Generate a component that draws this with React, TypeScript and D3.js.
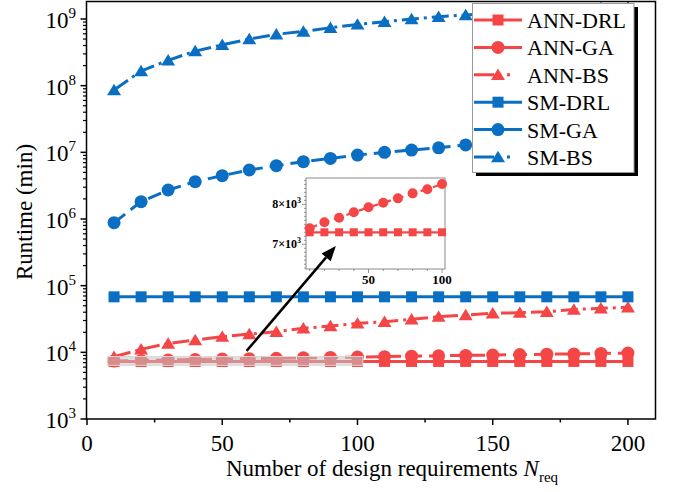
import React, { useEffect, useRef } from 'react';
import * as d3 from 'd3';

// number of design requirements
const nReq = [10, 20, 30, 40, 50, 60, 70, 80, 90, 100, 110, 120, 130, 140, 150, 160, 170, 180, 190, 200];

// runtime (min)
const annDrl = [7300, 7300, 7300, 7300, 7300, 7300, 7300, 7300, 7300, 7300, 7300, 7300, 7300, 7300, 7300, 7300, 7300, 7300, 7300, 7300];
const annGa = [7400, 7550, 7665, 7800, 7925, 8040, 8150, 8275, 8380, 8510, 8620, 8760, 8880, 9000, 9100, 9250, 9380, 9480, 9620, 9750];
const annBs = [8600, 11100, 13600, 15300, 17200, 18800, 20400, 23000, 24800, 27200, 28800, 31300, 34300, 36300, 38500, 39400, 40700, 44000, 45700, 47300];
const smDrl = [68000, 68000, 68000, 68000, 68000, 68000, 68000, 68000, 68000, 68000, 68000, 68000, 68000, 68000, 68000, 68000, 68000, 68000, 68000, 68000];
const smGa = [880000, 1820000, 2720000, 3630000, 4470000, 5430000, 6300000, 7250000, 8100000, 9100000, 10000000, 10800000, 11700000, 12900000, 13600000, 14500000, 15300000, 16200000, 17100000, 18000000];
const smBs = [86000000, 166000000, 240000000, 330000000, 410000000, 500000000, 590000000, 650000000, 740000000, 830000000, 910000000, 1000000000, 1080000000, 1150000000, 1220000000, 1290000000, 1350000000, 1410000000, 1460000000, 1500000000];

const xTicks = [0, 50, 100, 150, 200];
const xMinorTicks = [25, 75, 125, 175];
const yTickExps = [3, 4, 5, 6, 7, 8, 9];
const insetXTicks = [50, 100];
const insetYTicks = [7000, 8000];

// zoom window shown in the inset
const insetNRange = [7.5, 102];
const insetYRange = [6380, 8660];
// arrow from the zoom window to the inset
const arrowFrom = [59, 10500];
const arrowTo = [92, 394000];

const RED = '#F44646';
const BLUE = '#0A6FC2';
const FONT = '"Liberation Serif", "Times New Roman", serif';

const series = [
  { name: 'ANN-DRL', values: annDrl, color: RED, dash: null, marker: 'square' },
  { name: 'ANN-GA', values: annGa, color: RED, dash: '14,7', marker: 'circle' },
  { name: 'ANN-BS', values: annBs, color: RED, dash: '17,5,3,5', marker: 'triangle' },
  { name: 'SM-DRL', values: smDrl, color: BLUE, dash: null, marker: 'square' },
  { name: 'SM-GA', values: smGa, color: BLUE, dash: '14,7', marker: 'circle' },
  { name: 'SM-BS', values: smBs, color: BLUE, dash: '17,5,3,5', marker: 'triangle' },
];

function drawMarker(g, type, x, y, color, s) {
  if (type === 'square') {
    g.append('rect').attr('x', x - s / 2).attr('y', y - s / 2).attr('width', s).attr('height', s).attr('fill', color);
  } else if (type === 'circle') {
    g.append('circle').attr('cx', x).attr('cy', y).attr('r', s / 2 + 1).attr('fill', color);
  } else {
    const h = s * 0.95;
    g.append('path')
      .attr('d', `M${x},${y - h / 2 - 1}L${x + s / 2 + 1.5},${y + h / 2}L${x - s / 2 - 1.5},${y + h / 2}Z`)
      .attr('fill', color);
  }
}

export default function App() {
  const ref = useRef(null);

  useEffect(() => {
    const svg = d3.select(ref.current);
    svg.selectAll('*').remove();

    const left = 86.5, right = 655.5, top = 1.5, bottom = 419;
    const x = d3.scaleLinear().domain([0, 210]).range([87, 655]);
    const y = d3.scaleLog().domain([1e3, Math.pow(10, 9.27)]).range([bottom, 1]);

    // data
    const plot = svg.append('g');
    series.forEach(s => {
      const line = d3.line().x((d, i) => x(nReq[i])).y(d => y(d));
      plot.append('path')
        .attr('d', line(s.values))
        .attr('fill', 'none')
        .attr('stroke', s.color)
        .attr('stroke-width', 3)
        .attr('stroke-dasharray', s.dash)
        .attr('stroke-linecap', 'butt');
      s.values.forEach((v, i) => drawMarker(plot, s.marker, x(nReq[i]), y(v), s.color, 11));
    });

    // zoom window
    svg.append('rect')
      .attr('x', x(insetNRange[0]))
      .attr('y', y(insetYRange[1]))
      .attr('width', x(insetNRange[1]) - x(insetNRange[0]))
      .attr('height', y(insetYRange[0]) - y(insetYRange[1]))
      .attr('fill', '#c4c4c4')
      .attr('fill-opacity', 0.55)
      .attr('stroke', '#d8d8d8')
      .attr('stroke-width', 1);

    // frame
    svg.append('path')
      .attr('d', `M${left},${bottom}V${top}H${right}V${bottom}Z`)
      .attr('fill', 'none').attr('stroke', '#000').attr('stroke-width', 1.5);

    // x axis ticks
    const ax = svg.append('g');
    xTicks.forEach(t => {
      ax.append('line').attr('x1', x(t)).attr('x2', x(t)).attr('y1', bottom).attr('y2', bottom + 6)
        .attr('stroke', '#000').attr('stroke-width', 1.5);
      ax.append('text').attr('x', x(t)).attr('y', 451).attr('text-anchor', 'middle')
        .attr('font-family', FONT).attr('font-size', 23).text(t);
    });
    xMinorTicks.forEach(t => {
      ax.append('line').attr('x1', x(t)).attr('x2', x(t)).attr('y1', bottom).attr('y2', bottom + 3.5)
        .attr('stroke', '#000').attr('stroke-width', 1.5);
    });

    // y axis ticks
    yTickExps.forEach(e => {
      const v = Math.pow(10, e);
      ax.append('line').attr('x1', left).attr('x2', left - 6).attr('y1', y(v)).attr('y2', y(v))
        .attr('stroke', '#000').attr('stroke-width', 1.5);
      if (e < 9) {
        for (let k = 2; k <= 9; k++) {
          ax.append('line').attr('x1', left).attr('x2', left - 3.5).attr('y1', y(k * v)).attr('y2', y(k * v))
            .attr('stroke', '#000').attr('stroke-width', 1.2);
        }
      }
      const t = ax.append('text').attr('x', 76).attr('y', y(v) + 9).attr('text-anchor', 'end')
        .attr('font-family', FONT).attr('font-size', 23);
      t.append('tspan').text('10');
      t.append('tspan').attr('dy', -10).attr('font-size', 15).text(e);
    });
    ax.append('line').attr('x1', left).attr('x2', left - 3.5).attr('y1', y(2e9)).attr('y2', y(2e9))
      .attr('stroke', '#000').attr('stroke-width', 1.2);

    // axis titles
    const xt = svg.append('text').attr('x', 392).attr('y', 476).attr('text-anchor', 'middle')
      .attr('font-family', FONT).attr('font-size', 23);
    xt.append('tspan').text('Number of design requirements ');
    xt.append('tspan').attr('font-style', 'italic').text('N');
    xt.append('tspan').attr('dy', 6).attr('font-size', 15).text('req');

    svg.append('text').attr('transform', 'translate(32,212) rotate(-90)').attr('text-anchor', 'middle')
      .attr('font-family', FONT).attr('font-size', 23).text('Runtime (min)');

    // inset
    const ix = d3.scaleLinear().domain(insetNRange).range([306, 445]);
    const iy = d3.scaleLinear().domain(insetYRange).range([269, 178]);
    const inset = svg.append('g');
    inset.append('rect').attr('x', 306).attr('y', 178).attr('width', 139).attr('height', 91)
      .attr('fill', '#fff').attr('stroke', '#8a8a8a').attr('stroke-width', 1);
    for (let v = 6400; v <= 8600; v += 100) {
      inset.append('line').attr('x1', 306).attr('x2', v % 1000 === 0 ? 302 : 304).attr('y1', iy(v)).attr('y2', iy(v))
        .attr('stroke', '#777').attr('stroke-width', 0.8);
    }
    for (let n = 10; n <= 100; n += 10) {
      inset.append('line').attr('x1', ix(n)).attr('x2', ix(n)).attr('y1', 269).attr('y2', n % 50 === 0 ? 273 : 271)
        .attr('stroke', '#777').attr('stroke-width', 0.8);
    }
    insetYTicks.forEach(v => {
      const t = inset.append('text').attr('x', 301).attr('y', iy(v) + 4).attr('text-anchor', 'end')
        .attr('font-family', FONT).attr('font-size', 12).attr('font-weight', 'bold');
      t.append('tspan').text(`${v / 1000}×10`);
      t.append('tspan').attr('dy', -5).attr('font-size', 8).text('3');
    });
    insetXTicks.forEach(n => {
      inset.append('text').attr('x', ix(n)).attr('y', 284).attr('text-anchor', 'middle')
        .attr('font-family', FONT).attr('font-size', 13).attr('font-weight', 'bold').text(n);
    });
    [series[0], series[1]].forEach(s => {
      const vals = s.values.slice(0, 10);
      const line = d3.line().x((d, i) => ix(nReq[i])).y(d => iy(d));
      inset.append('path').attr('d', line(vals)).attr('fill', 'none').attr('stroke', s.color)
        .attr('stroke-width', 2.2).attr('stroke-dasharray', s.dash ? '8,5' : null);
      vals.forEach((v, i) => drawMarker(inset, s.marker, ix(nReq[i]), iy(v), s.color, 8));
    });

    // arrow (drawn over the inset)
    const ax0 = x(arrowFrom[0]), ay0 = y(arrowFrom[1]);
    const ax1 = x(arrowTo[0]), ay1 = y(arrowTo[1]);
    const ang = Math.atan2(ay1 - ay0, ax1 - ax0);
    const hl = 15, hw = 6;
    const bx = ax1 - hl * Math.cos(ang), by = ay1 - hl * Math.sin(ang);
    svg.append('line')
      .attr('x1', ax0).attr('y1', ay0).attr('x2', bx).attr('y2', by)
      .attr('stroke', '#000').attr('stroke-width', 2.5);
    svg.append('path')
      .attr('d', `M${ax1},${ay1}L${bx - hw * Math.sin(ang)},${by + hw * Math.cos(ang)}L${bx + hw * Math.sin(ang)},${by - hw * Math.cos(ang)}Z`)
      .attr('fill', '#000');

    // legend
    const lg = svg.append('g');
    lg.append('rect').attr('x', 476).attr('y', 7).attr('width', 162).attr('height', 169).attr('fill', '#000');
    lg.append('rect').attr('x', 472.5).attr('y', 3.5).attr('width', 161.5).attr('height', 169)
      .attr('fill', '#fff').attr('stroke', '#999').attr('stroke-width', 1);
    series.forEach((s, i) => {
      const ry = 20 + i * 27.4;
      lg.append('line').attr('x1', 474).attr('x2', 522).attr('y1', ry).attr('y2', ry)
        .attr('stroke', s.color).attr('stroke-width', 3)
        .attr('stroke-dasharray', s.dash ? (s.marker === 'circle' ? '18,12' : '20,13,3,20') : null);
      drawMarker(lg, s.marker, 498, ry, s.color, 11);
      lg.append('text').attr('x', 527).attr('y', ry + 8).attr('font-family', FONT).attr('font-size', 22).text(s.name);
    });
  }, []);

  return (
    <div style={{ position: 'absolute', left: 0, top: 0 }}>
      <svg ref={ref} width={674} height={492} style={{ display: 'block', background: '#fff' }}></svg>
    </div>
  );
}
